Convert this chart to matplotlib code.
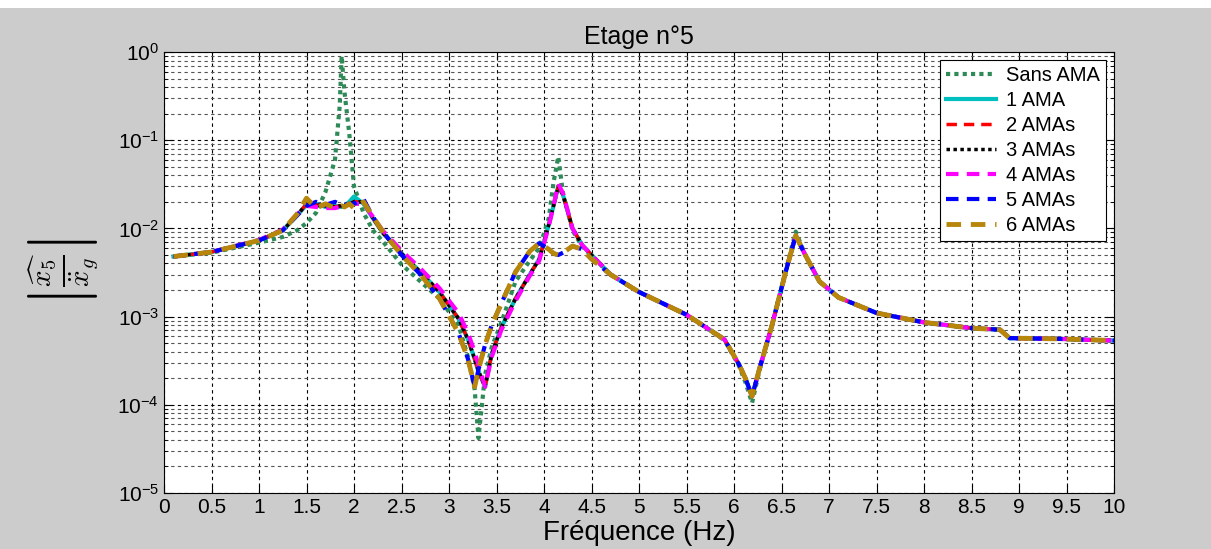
# Response of floor 5 with and without AMAs (tuned mass dampers)
import numpy as np
import matplotlib
matplotlib.use('Agg')
import matplotlib.pyplot as plt
from matplotlib.patches import Rectangle

plt.rcParams['font.family'] = ['Liberation Sans', 'DejaVu Sans']
plt.rcParams['mathtext.fontset'] = 'cm'

# Frequency points (Hz)
freq = [0.1, 0.5, 1.0, 1.25, 1.4, 1.5, 1.6, 1.7, 1.8, 1.85, 1.87, 1.9, 1.95, 2.0, 2.1,
        2.2, 2.3, 2.5, 2.7, 2.9, 3.1, 3.2, 3.27, 3.31, 3.38, 3.45, 3.55, 3.7, 3.85,
        3.95, 4.05, 4.1, 4.15, 4.2, 4.3, 4.4, 4.5, 4.7, 5.0, 5.5, 5.9, 6.05, 6.12,
        6.19, 6.27, 6.4, 6.55, 6.65, 6.75, 6.9, 7.1, 7.5, 8.0, 8.5, 8.8, 8.9, 9.4, 10.0]

sans_ama = [4.8e-3, 5.3e-3, 6.9e-3, 8.0e-3, 9.5e-3, 1.15e-2, 1.5e-2, 2.6e-2, 6e-2, 0.25, 0.9, 0.35,
            0.12, 3.0e-2, 1.5e-2, 9.5e-3, 7.2e-3, 3.9e-3, 2.5e-3, 1.6e-3, 8e-4, 3.5e-4, 1.5e-4,
            4.2e-5, 2.2e-4, 4.5e-4, 8.5e-4, 2.5e-3, 4.3e-3, 6e-3, 1.3e-2, 3.3e-2, 6.5e-2, 2.5e-2,
            9.5e-3, 6.3e-3, 4.9e-3, 3.0e-3, 1.9e-3, 1.05e-3, 5.4e-4, 2.8e-4, 1.8e-4, 1.05e-4,
            2.5e-4, 8e-4, 3.5e-3, 9.2e-3, 5.0e-3, 2.5e-3, 1.65e-3, 1.1e-3, 8.6e-4, 7.4e-4,
            7.1e-4, 5.7e-4, 5.6e-4, 5.35e-4]

ama_1 = [4.8e-3, 5.4e-3, 7.3e-3, 9.5e-3, 1.4e-2, 1.85e-2, 1.9e-2, 1.75e-2, 1.8e-2, 1.75e-2, 1.75e-2,
         1.8e-2, 2.0e-2, 2.3e-2, 1.9e-2, 1.3e-2, 9e-3, 5.2e-3, 3.2e-3, 1.9e-3, 9.5e-4, 5.5e-4,
         3.3e-4, 2.4e-4, 1.6e-4, 3.8e-4, 7.5e-4, 1.6e-3, 3e-3, 4.5e-3, 1.1e-2, 1.8e-2, 3.0e-2,
         2.4e-2, 1e-2, 6.5e-3, 5.0e-3, 3.0e-3, 1.9e-3, 1.05e-3, 5.5e-4, 2.9e-4, 2e-4, 1.25e-4,
         2.6e-4, 8e-4, 3.4e-3, 8.3e-3, 5.0e-3, 2.5e-3, 1.65e-3, 1.1e-3, 8.6e-4, 7.4e-4, 7.1e-4,
         5.7e-4, 5.6e-4, 5.35e-4]

ama_2 = [4.8e-3, 5.4e-3, 7.3e-3, 9.5e-3, 1.4e-2, 1.9e-2, 1.85e-2, 1.8e-2, 1.75e-2, 1.8e-2, 1.8e-2,
         1.85e-2, 1.9e-2, 2.0e-2, 2.0e-2, 1.3e-2, 9e-3, 5.2e-3, 3.2e-3, 1.9e-3, 9.5e-4, 5.5e-4,
         3.3e-4, 2.4e-4, 1.6e-4, 3.8e-4, 7.5e-4, 1.6e-3, 3e-3, 4.5e-3, 1.1e-2, 1.8e-2, 3.0e-2,
         2.4e-2, 1e-2, 6.5e-3, 5.0e-3, 3.0e-3, 1.9e-3, 1.05e-3, 5.5e-4, 2.9e-4, 2e-4, 1.25e-4,
         2.6e-4, 8e-4, 3.4e-3, 8.3e-3, 5.0e-3, 2.5e-3, 1.65e-3, 1.1e-3, 8.6e-4, 7.4e-4, 7.1e-4,
         5.7e-4, 5.6e-4, 5.35e-4]

ama_3 = [4.8e-3, 5.4e-3, 7.3e-3, 9.5e-3, 1.4e-2, 1.9e-2, 1.85e-2, 1.8e-2, 1.75e-2, 1.8e-2, 1.8e-2,
         1.85e-2, 1.9e-2, 2.0e-2, 2.0e-2, 1.3e-2, 9e-3, 5.2e-3, 3.2e-3, 1.9e-3, 9.5e-4, 5.5e-4,
         3.3e-4, 2.4e-4, 1.6e-4, 3.8e-4, 7.5e-4, 1.6e-3, 3e-3, 4.5e-3, 1.1e-2, 1.8e-2, 3.0e-2,
         2.4e-2, 1e-2, 6.5e-3, 5.0e-3, 3.0e-3, 1.9e-3, 1.05e-3, 5.5e-4, 2.9e-4, 2e-4, 1.25e-4,
         2.6e-4, 8e-4, 3.4e-3, 8.3e-3, 5.0e-3, 2.5e-3, 1.65e-3, 1.1e-3, 8.6e-4, 7.4e-4, 7.1e-4,
         5.7e-4, 5.6e-4, 5.35e-4]

ama_4 = [4.8e-3, 5.4e-3, 7.4e-3, 9.7e-3, 1.45e-2, 1.8e-2, 1.75e-2, 1.7e-2, 1.7e-2, 1.75e-2, 1.75e-2,
         1.8e-2, 1.85e-2, 1.9e-2, 1.9e-2, 1.35e-2, 9.5e-3, 5.6e-3, 3.5e-3, 2.1e-3, 1.1e-3, 6.5e-4,
         4e-4, 2.8e-4, 1.6e-4, 3.5e-4, 7e-4, 1.5e-3, 2.9e-3, 4.3e-3, 1.05e-2, 1.8e-2, 3.2e-2,
         2.5e-2, 1e-2, 6.5e-3, 5.0e-3, 3.0e-3, 1.9e-3, 1.05e-3, 5.5e-4, 2.9e-4, 2e-4, 1.25e-4,
         2.6e-4, 8e-4, 3.4e-3, 8.3e-3, 5.0e-3, 2.5e-3, 1.65e-3, 1.1e-3, 8.6e-4, 7.4e-4, 7.1e-4,
         5.7e-4, 5.6e-4, 5.35e-4]

ama_5 = [4.8e-3, 5.4e-3, 7.3e-3, 9.5e-3, 1.4e-2, 1.8e-2, 2.0e-2, 1.85e-2, 2.0e-2, 1.9e-2, 1.85e-2,
         1.85e-2, 1.9e-2, 1.9e-2, 2.15e-2, 1.35e-2, 9.3e-3, 5e-3, 3e-3, 1.6e-3, 6.5e-4, 3.3e-4,
         1.6e-4, 2.5e-4, 4.8e-4, 8e-4, 1.4e-3, 3.2e-3, 5.5e-3, 6.8e-3, 5.8e-3, 5.2e-3, 5.0e-3,
         5.3e-3, 6.3e-3, 5.8e-3, 4.5e-3, 3.0e-3, 1.9e-3, 1.05e-3, 5.5e-4, 2.9e-4, 2e-4, 1.25e-4,
         2.6e-4, 8e-4, 3.4e-3, 8.3e-3, 5.0e-3, 2.5e-3, 1.65e-3, 1.1e-3, 8.6e-4, 7.4e-4, 7.1e-4,
         5.7e-4, 5.6e-4, 5.35e-4]

ama_6 = [4.8e-3, 5.4e-3, 7.3e-3, 9.5e-3, 1.45e-2, 2.2e-2, 1.7e-2, 1.9e-2, 1.7e-2, 1.75e-2, 1.8e-2,
         1.75e-2, 1.9e-2, 1.7e-2, 2.0e-2, 1.35e-2, 9.3e-3, 5e-3, 3e-3, 1.6e-3, 6.5e-4, 3.3e-4,
         1.6e-4, 2.5e-4, 4.8e-4, 8e-4, 1.4e-3, 3.2e-3, 5.5e-3, 6.8e-3, 5.8e-3, 5.2e-3, 5.0e-3,
         5.3e-3, 6.3e-3, 5.8e-3, 4.5e-3, 3.0e-3, 1.9e-3, 1.05e-3, 5.5e-4, 2.9e-4, 2e-4, 1.25e-4,
         2.6e-4, 8e-4, 3.4e-3, 8.3e-3, 5.0e-3, 2.5e-3, 1.65e-3, 1.1e-3, 8.6e-4, 7.4e-4, 7.1e-4,
         5.7e-4, 5.6e-4, 5.35e-4]

labels = ['Sans AMA', '1 AMA', '2 AMAs', '3 AMAs', '4 AMAs', '5 AMAs', '6 AMAs']
series = [sans_ama, ama_1, ama_2, ama_3, ama_4, ama_5, ama_6]
colors = ['#2e8b57', '#00bfbf', '#ff0000', '#000000', '#ff00ff', '#0000ff', '#b8860b']
styles = [(0, (1, 1)), '-', (0, (3, 2)), (0, (1, 1)), (0, (3, 2)), (0, (3, 2)), (0, (3, 2))]
widths = [3, 3, 2.5, 2.5, 3, 3, 3.5]

fig = plt.figure(figsize=(12.11, 5.49), dpi=100, facecolor='#cccccc')
fig.patches.append(Rectangle((0, 1 - 8 / 549), 1, 8 / 549, transform=fig.transFigure,
                             facecolor='white', edgecolor='none', zorder=-1))
ax = fig.add_axes([164 / 1211, 1 - 493 / 549, 950 / 1211, 441 / 549])

for vals, lab, c, ls, lw in zip(series, labels, colors, styles, widths):
    ax.semilogy(freq, vals, color=c, linestyle=ls, linewidth=lw, label=lab)

ax.set_xlim(0, 10)
ax.set_ylim(1e-5, 1)
ax.set_xticks(np.arange(0, 10.01, 0.5))
ax.set_xticklabels(['0', '0.5', '1', '1.5', '2', '2.5', '3', '3.5', '4', '4.5', '5',
                    '5.5', '6', '6.5', '7', '7.5', '8', '8.5', '9', '9.5', '10'])
ax.grid(True, which='major', color='black', linestyle=(0, (3, 3)), linewidth=0.8)
ax.grid(True, which='minor', axis='y', color='#555555', linestyle=(0, (3, 3)), linewidth=0.8)
ax.tick_params(which='both', direction='in', top=True, right=True, labelsize=15)
ax.tick_params(which='major', length=6)
ax.tick_params(which='minor', length=3)

ax.set_title('Etage n°5', fontsize=18, pad=6)
ax.set_xlabel('Fréquence (Hz)', fontsize=20, labelpad=2)
ax.set_ylabel(r'$\left|\frac{\widehat{x_5}}{\ddot{x}_g}\right|$', fontsize=30, labelpad=12)

leg = ax.legend(loc='upper right', fontsize=14.5, frameon=True, fancybox=False,
                framealpha=1, edgecolor='black', handlelength=2.5, borderaxespad=0.4,
                labelspacing=0.3, handletextpad=0.5, borderpad=0.3)
leg.get_frame().set_linewidth(0.8)

fig.savefig('out.png', dpi=100, facecolor=fig.get_facecolor())
